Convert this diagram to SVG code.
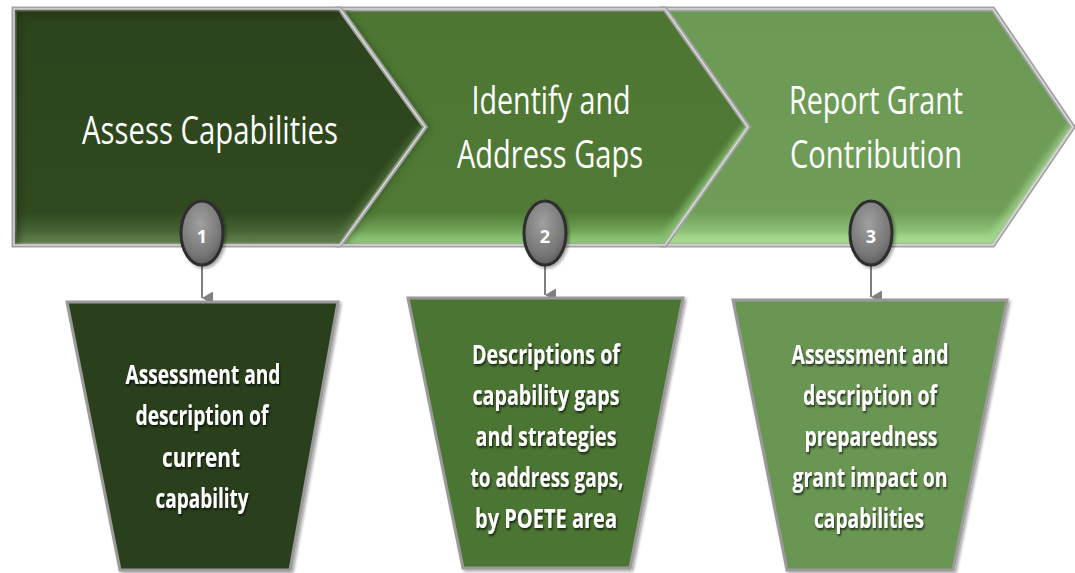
<svg xmlns="http://www.w3.org/2000/svg" width="1075" height="573" viewBox="0 0 1075 573">
<style>
.title{font-family:"Open Sans","Liberation Sans",sans-serif;font-size:39px;fill:#ffffff;text-anchor:middle}
.body{font-family:"Open Sans","Liberation Sans",sans-serif;font-weight:bold;font-size:26px;fill:#ffffff;text-anchor:middle;filter:url(#tshadow)}
.num{font-family:"Open Sans","Liberation Sans",sans-serif;font-weight:bold;font-size:18px;fill:#ffffff;text-anchor:middle}
.chev{stroke:#a2a2a2;stroke-width:5;stroke-linejoin:miter}
.chevhi{fill:none;stroke:#d9d9d9;stroke-width:1.5}
.trap{stroke:#9a9a9a;stroke-width:3;filter:url(#bshadow)}
.badge{stroke:#2e2e2e;stroke-width:3;fill:url(#gBadge);filter:url(#bshadow)}
.conn{stroke:#7f7f7f;stroke-width:2;fill:none}
</style>
<defs>
<linearGradient id="g1" x1="0" y1="0" x2="0" y2="1">
<stop offset="0" stop-color="#2c441d"/><stop offset="0.86" stop-color="#30491f"/><stop offset="0.95" stop-color="#4a6638"/><stop offset="1" stop-color="#607d4e"/>
</linearGradient>
<linearGradient id="g2" x1="0" y1="0" x2="0" y2="1">
<stop offset="0" stop-color="#4d7633"/><stop offset="0.86" stop-color="#507a35"/><stop offset="0.95" stop-color="#74a85b"/><stop offset="1" stop-color="#8cc274"/>
</linearGradient>
<linearGradient id="g3" x1="0" y1="0" x2="0" y2="1">
<stop offset="0" stop-color="#6c9a55"/><stop offset="0.86" stop-color="#6f9d58"/><stop offset="0.95" stop-color="#90c479"/><stop offset="1" stop-color="#a6d890"/>
</linearGradient>
<radialGradient id="gBadge" cx="0.45" cy="0.35" r="0.7">
<stop offset="0" stop-color="#a0a0a0"/><stop offset="0.7" stop-color="#777777"/><stop offset="1" stop-color="#555555"/>
</radialGradient>
<clipPath id="c1"><path d="M14,9 H340 L425,127 L340,245 H14 Z"/></clipPath>
<clipPath id="c2"><path d="M340,9 H665 L748,127 L665,245 H340 L425,127 Z"/></clipPath>
<clipPath id="c3"><path d="M665,9 H993 L1073,127 L993,245 H665 L748,127 Z"/></clipPath>
<filter id="blur" x="-10%" y="-10%" width="120%" height="120%"><feGaussianBlur stdDeviation="3"/></filter>
<filter id="tshadow" x="-10%" y="-20%" width="120%" height="150%"><feDropShadow dx="1" dy="2" stdDeviation="1" flood-color="#000" flood-opacity="0.7"/></filter>
<filter id="bshadow" x="-10%" y="-10%" width="125%" height="125%"><feDropShadow dx="2" dy="2" stdDeviation="1.5" flood-color="#000" flood-opacity="0.35"/></filter>
<marker id="arr" viewBox="0 0 13 11" refX="6.5" refY="11" markerWidth="13" markerHeight="11" markerUnits="userSpaceOnUse" orient="auto-start-reverse">
<path d="M0,0 L13,0 L6.5,11 Z" fill="#7f7f7f"/>
</marker>
</defs>

<g id="step3">
<path class="chev" d="M665,9 H993 L1073,127 L993,245 H665 L748,127 Z" fill="url(#g3)"/>
<g clip-path="url(#c3)">
<path d="M665,240 H993 L1073,127" fill="none" stroke="#a8dc92" stroke-width="10" opacity="0.7" filter="url(#blur)"/>
<path d="M665,14 H993" fill="none" stroke="#4f7a3d" stroke-width="8" opacity="0.5" filter="url(#blur)"/>
</g>
<path class="chevhi" d="M665,9 H993 L1073,127 L993,245 H665 L748,127 Z"/>
<text class="title" x="876" y="114" textLength="174" lengthAdjust="spacingAndGlyphs">Report Grant</text>
<text class="title" x="876" y="168" textLength="172" lengthAdjust="spacingAndGlyphs">Contribution</text>
</g>

<g id="step2">
<path class="chev" d="M340,9 H665 L748,127 L665,245 H340 L425,127 Z" fill="url(#g2)"/>
<g clip-path="url(#c2)">
<path d="M340,240 H665 L748,127" fill="none" stroke="#8fc678" stroke-width="10" opacity="0.7" filter="url(#blur)"/>
<path d="M340,14 H665" fill="none" stroke="#2f4f20" stroke-width="8" opacity="0.5" filter="url(#blur)"/>
<path d="M340,9 L425,127 L340,245" fill="none" stroke="#2f4f20" stroke-width="10" opacity="0.5" filter="url(#blur)"/>
</g>
<path class="chevhi" d="M340,9 H665 L748,127 L665,245 H340 L425,127 Z"/>
<text class="title" x="551" y="114" textLength="159" lengthAdjust="spacingAndGlyphs">Identify and</text>
<text class="title" x="550" y="168" textLength="186" lengthAdjust="spacingAndGlyphs">Address Gaps</text>
</g>

<g id="step1">
<path class="chev" d="M14,9 H340 L425,127 L340,245 H14 Z" fill="url(#g1)"/>
<g clip-path="url(#c1)">
<path d="M14,240 H340 L425,127" fill="none" stroke="#5f7f4a" stroke-width="10" opacity="0.6" filter="url(#blur)"/>
<path d="M14,245 V9 H340" fill="none" stroke="#1a2a10" stroke-width="10" opacity="0.6" filter="url(#blur)"/>
</g>
<path class="chevhi" d="M14,9 H340 L425,127 L340,245 H14 Z"/>
<text class="title" x="210" y="144" textLength="256" lengthAdjust="spacingAndGlyphs">Assess Capabilities</text>
</g>

<g id="connectors">
<line class="conn" x1="202" y1="266" x2="202" y2="298" marker-end="url(#arr)"/>
<line class="conn" x1="545" y1="266" x2="545" y2="295" marker-end="url(#arr)"/>
<line class="conn" x1="871" y1="266" x2="871" y2="297" marker-end="url(#arr)"/>
</g>

<g id="badge1">
<ellipse class="badge" cx="202" cy="233" rx="21" ry="32"/>
<text class="num" x="202" y="243">1</text>
</g>
<g id="badge2">
<ellipse class="badge" cx="545" cy="233" rx="21" ry="32"/>
<text class="num" x="545" y="243">2</text>
</g>
<g id="badge3">
<ellipse class="badge" cx="871" cy="233" rx="21" ry="32"/>
<text class="num" x="871" y="243">3</text>
</g>

<g id="box1">
<path class="trap" d="M67,302 H338 L290,570 H120 Z" fill="#2b411c"/>
<text class="body" x="203" y="384" textLength="155" lengthAdjust="spacingAndGlyphs">Assessment and</text>
<text class="body" x="202" y="425" textLength="133" lengthAdjust="spacingAndGlyphs">description of</text>
<text class="body" x="201" y="467" textLength="78" lengthAdjust="spacingAndGlyphs">current</text>
<text class="body" x="202" y="508" textLength="93" lengthAdjust="spacingAndGlyphs">capability</text>
</g>

<g id="box2">
<path class="trap" d="M408,298 H683 L630,568 H463 Z" fill="#4c7430"/>
<text class="body" x="546" y="364" textLength="148" lengthAdjust="spacingAndGlyphs">Descriptions of</text>
<text class="body" x="546" y="405" textLength="147" lengthAdjust="spacingAndGlyphs">capability gaps</text>
<text class="body" x="546" y="446" textLength="141" lengthAdjust="spacingAndGlyphs">and strategies</text>
<text class="body" x="547" y="487" textLength="153" lengthAdjust="spacingAndGlyphs">to address gaps,</text>
<text class="body" x="546" y="528" textLength="142" lengthAdjust="spacingAndGlyphs">by POETE area</text>
</g>

<g id="box3">
<path class="trap" d="M733,300 H1007 L953,570 H787 Z" fill="#6b9653"/>
<text class="body" x="870" y="364" textLength="157" lengthAdjust="spacingAndGlyphs">Assessment and</text>
<text class="body" x="870" y="405" textLength="134" lengthAdjust="spacingAndGlyphs">description of</text>
<text class="body" x="871" y="446" textLength="133" lengthAdjust="spacingAndGlyphs">preparedness</text>
<text class="body" x="870" y="487" textLength="155" lengthAdjust="spacingAndGlyphs">grant impact on</text>
<text class="body" x="869" y="528" textLength="110" lengthAdjust="spacingAndGlyphs">capabilities</text>
</g>
</svg>
